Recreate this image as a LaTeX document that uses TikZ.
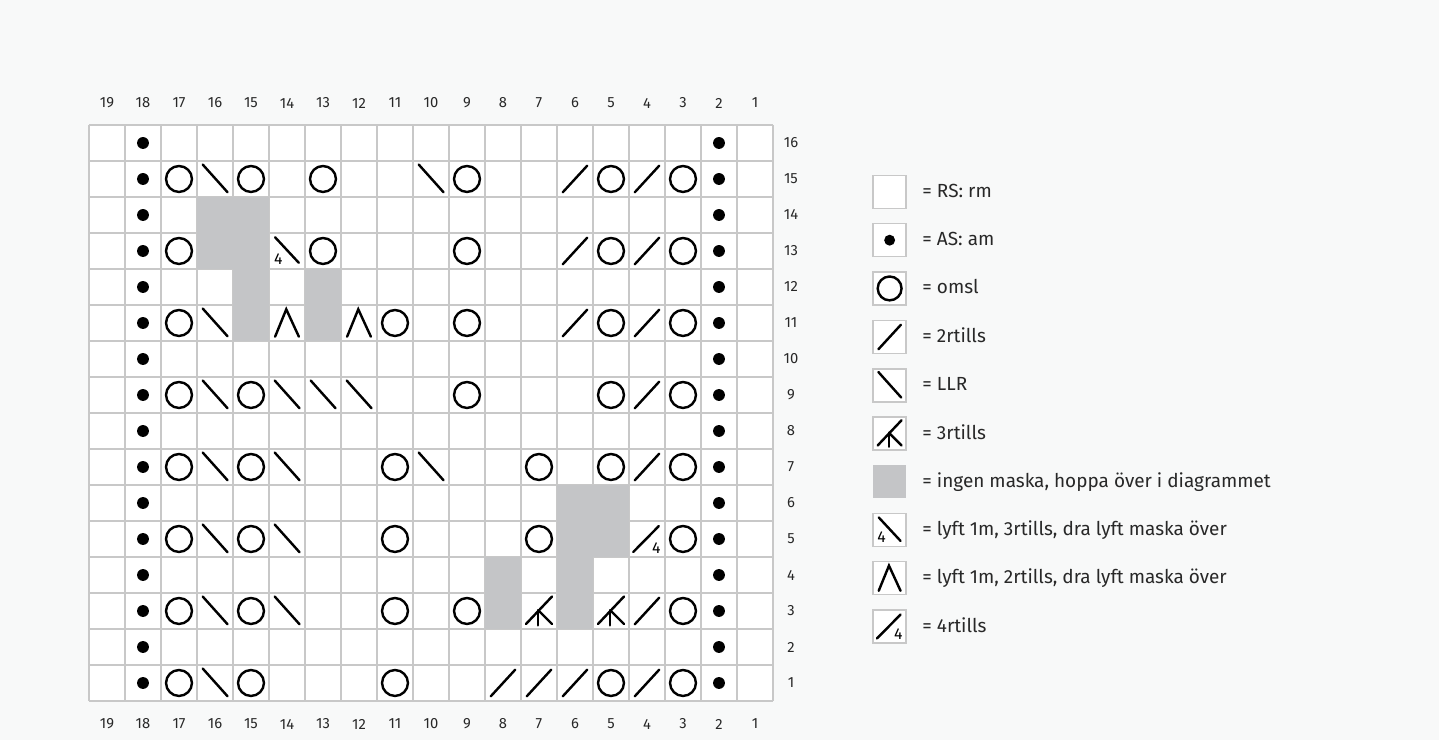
\documentclass[tikz,border=0pt]{standalone}
\usepackage{fontspec}
\setmainfont{Fira Sans}
\usetikzlibrary{positioning,calc}
\definecolor{PaperWhite}{RGB}{248,249,249}
\definecolor{GridGray}{RGB}{200,200,200}
\definecolor{SkipGray}{RGB}{196,197,199}
\definecolor{NumGray}{RGB}{40,40,40}
\tikzset{
  gridline/.style={draw=GridGray,line width=0.8pt},
  stitch/.style={draw=black,line width=1.15pt,line cap=round},
  skipcell/.style={fill=SkipGray},
  num/.style={font=\fontsize{7}{8}\selectfont,text=NumGray,inner sep=0pt},
  smallnum/.style={font=\fontsize{7.5}{8}\selectfont,inner sep=0pt},
  keybox/.style={draw=GridGray,line width=0.7pt,fill=white,minimum size=0.55cm,inner sep=0pt},
  keytext/.style={anchor=mid west,font=\fontsize{9}{10}\selectfont,text=NumGray,inner sep=0pt},
}
\tikzset{
  yo/.pic={\draw[stitch] (0,0) circle (0.36);},
  am/.pic={\fill (0,0) circle (0.165);},
  ktog/.pic={\draw[stitch] (-0.34,-0.37) -- (0.34,0.37);},
  llr/.pic={\draw[stitch] (-0.34,0.40) -- (0.35,-0.37);},
  skpo/.pic={\draw[stitch] (-0.33,-0.38) -- (-0.02,0.38) -- (0.33,-0.38);},
  skpthree/.pic={\draw[stitch] (-0.33,0.38) -- (0.33,-0.33);
    \node[smallnum] at (-0.24,-0.22) {4};},
  fourtog/.pic={\draw[stitch] (-0.38,-0.36) -- (0.33,0.36);
    \node[smallnum] at (0.26,-0.24) {4};},
  threetog/.pic={\draw[stitch] (-0.36,-0.36) -- (0.36,0.40);
    \draw[stitch] (-0.02,0.02) -- (0.36,-0.36);
    \draw[stitch] (-0.02,0.02) -- (-0.02,-0.40);},
}
\begin{document}
\begin{tikzpicture}[x=0.6cm,y=0.6cm]
\path[use as bounding box,fill=PaperWhite] (-2.472,-1.083) rectangle (37.5,19.472);
\fill[white] (0,0) rectangle (19,16);
\foreach \i in {0,...,19}
  \draw[gridline] (\i,0) -- (\i,16);
\foreach \j in {0,...,16}
  \draw[gridline] (0,\j) -- (19,\j);
\foreach \c/\r in {16/14,15/14,16/13,15/13,15/12,13/12,15/11,13/11,6/6,5/6,6/5,5/5,8/4,6/4,8/3,6/3}
  \fill[skipcell] ({19-\c},{\r-1}) rectangle +(1,1);
\foreach \r in {1,...,16} {
  \pic at (1.5,{\r-0.5}) {am};
  \pic at (17.5,{\r-0.5}) {am};
}
\foreach \c/\r in {17/15,15/15,13/15,9/15,5/15,3/15,
  17/13,13/13,9/13,5/13,3/13,
  17/11,11/11,9/11,5/11,3/11,
  17/9,15/9,9/9,5/9,3/9,
  17/7,15/7,11/7,7/7,5/7,3/7,
  17/5,15/5,11/5,7/5,3/5,
  17/3,15/3,11/3,9/3,3/3,
  17/1,15/1,11/1,5/1,3/1}
  \pic at ({19.5-\c},{\r-0.5}) {yo};
\foreach \c/\r in {16/15,10/15,16/11,16/9,14/9,13/9,12/9,16/7,14/7,10/7,16/5,14/5,16/3,14/3,16/1}
  \pic at ({19.5-\c},{\r-0.5}) {llr};
\foreach \c/\r in {6/15,4/15,6/13,4/13,6/11,4/11,4/9,4/7,4/3,8/1,7/1,6/1,4/1}
  \pic at ({19.5-\c},{\r-0.5}) {ktog};
\foreach \c in {14,12}
  \pic at ({19.5-\c},10.5) {skpo};
\pic at (5.5,12.5) {skpthree};
\pic at (15.5,4.5) {fourtog};
\foreach \c in {7,5}
  \pic at ({19.5-\c},2.5) {threetog};
\foreach \c in {1,...,19} {
  \node[num] (top\c) at ({19.5-\c},16.61) {\c};
  \node[num] (bot\c) at ({19.5-\c},-0.64) {\c};
}
\foreach \r in {1,...,16}
  \node[num] (row\r) at (19.5,{\r-0.5}) {\r};
\node[keybox] (key1) at (22.24,14.14) {};
\node[keybox] (key2) at (22.24,12.80) {};
\node[keybox] (key3) at (22.24,11.46) {};
\node[keybox] (key4) at (22.24,10.11) {};
\node[keybox] (key5) at (22.24,8.77) {};
\node[keybox] (key6) at (22.24,7.43) {};
\node[keybox,draw=none,fill=SkipGray] (key7) at (22.24,6.09) {};
\node[keybox] (key8) at (22.24,4.75) {};
\node[keybox] (key9) at (22.24,3.41) {};
\node[keybox] (key10) at (22.24,2.07) {};
\pic[scale=0.92] at (key2) {am};
\pic[scale=0.92] at (key3) {yo};
\pic[scale=0.92] at (key4) {ktog};
\pic[scale=0.92] at (key5) {llr};
\pic[scale=0.92] at (key6) {threetog};
\pic[scale=0.92] at (key8) {skpthree};
\pic[scale=0.92] at (key9) {skpo};
\pic[scale=0.92] at (key10) {fourtog};
\node[keytext] (txt1) at (23.14,14.14) {= RS: rm};
\node[keytext] (txt2) at (23.14,12.80) {= AS: am};
\node[keytext] (txt3) at (23.14,11.46) {= omsl};
\node[keytext] (txt4) at (23.14,10.11) {= 2rtills};
\node[keytext] (txt5) at (23.14,8.77) {= LLR};
\node[keytext] (txt6) at (23.14,7.43) {= 3rtills};
\node[keytext] (txt7) at (23.14,6.09) {= ingen maska, hoppa över i diagrammet};
\node[keytext] (txt8) at (23.14,4.75) {= lyft 1m, 3rtills, dra lyft maska över};
\node[keytext] (txt9) at (23.14,3.41) {= lyft 1m, 2rtills, dra lyft maska över};
\node[keytext] (txt10) at (23.14,2.07) {= 4rtills};
\end{tikzpicture}
\end{document}
